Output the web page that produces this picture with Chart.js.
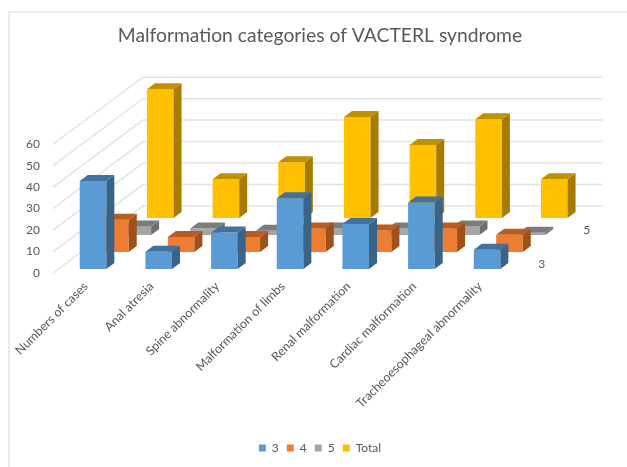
<!DOCTYPE html>
<html lang="en">
<head>
    <meta charset="UTF-8">
    <title>Malformation categories of VACTERL syndrome</title>
    <script src="https://cdn.jsdelivr.net/npm/chart.js"></script>
    <style>
        html, body { margin: 0; padding: 0; background: #fff; }
    </style>
</head>
<body>
    <div style="position:absolute;left:0;top:0;width:627px;height:467px">
        <canvas id="chart" width="627" height="467"></canvas>
    </div>

    <script>
        const categories = ['Numbers of cases', 'Anal atresia', 'Spine abnormality', 'Malformation of limbs',
            'Renal malformation', 'Cardiac malformation', 'Tracheoesophageal abnormality'];
        const series3 = [41, 8, 17, 33, 21, 31, 9];
        const series4 = [15, 7, 7, 11, 10, 11, 8];
        const series5 = [4, 3, 2, 3, 3, 4, 1];
        const seriesTotal = [60, 18, 26, 47, 34, 46, 18];
        const yTicks = [0, 10, 20, 30, 40, 50, 60];

        // 3D look: how far each series sits behind the front edge of the floor
        const depthX = [7.2, 29.6, 52, 74.4];
        const depthY = [4, 21, 38, 55];
        const wallX = 90, wallY = 67;
        const sideX = 8, sideY = 6;
        const sideColors = ['#38648a', '#9e5219', '#6e6e6e', '#a67c00'];
        const topColors = ['#41719c', '#b85d1f', '#7c7c7c', '#bf9000'];

        const walls = {
            id: 'walls',
            beforeDraw(chart) {
                // thin frame of the picture, left and top only
                const ctx = chart.ctx;
                ctx.save();
                ctx.strokeStyle = '#e6e6e6';
                ctx.lineWidth = 1.5;
                ctx.beginPath();
                ctx.moveTo(9, 467);
                ctx.lineTo(9, 12);
                ctx.lineTo(627, 12);
                ctx.stroke();
                ctx.restore();
            },
            beforeDatasetsDraw(chart) {
                const { ctx, chartArea, scales } = chart;
                ctx.save();
                ctx.strokeStyle = '#e3e3e3';
                ctx.lineWidth = 1.5;
                yTicks.forEach(v => {
                    const y = scales.y.getPixelForValue(v);
                    ctx.beginPath();
                    ctx.moveTo(chartArea.left, y);
                    ctx.lineTo(chartArea.left + wallX, y - wallY);
                    ctx.lineTo(chartArea.right + wallX, y - wallY);
                    ctx.stroke();
                });
                ctx.restore();
            },
            afterDraw(chart) {
                // labels of the depth axis
                const { ctx, chartArea, scales } = chart;
                const y0 = scales.y.getPixelForValue(0);
                ctx.save();
                ctx.fillStyle = '#595959';
                ctx.font = '12px Lato';
                ctx.textAlign = 'center';
                ctx.textBaseline = 'middle';
                ctx.fillText('3', chartArea.right + 29, y0 - 9);
                ctx.fillText('5', chartArea.right + 74, y0 - 43);
                ctx.restore();
            }
        };

        const bars3d = {
            id: 'bars3d',
            beforeDatasetDraw(chart, args) {
                chart.ctx.save();
                chart.ctx.translate(depthX[args.index], -depthY[args.index]);
            },
            afterDatasetDraw(chart, args) {
                const ctx = chart.ctx;
                args.meta.data.forEach(bar => {
                    const l = bar.x - bar.width / 2, r = bar.x + bar.width / 2;
                    const t = bar.y, b = bar.base;
                    ctx.fillStyle = sideColors[args.index];
                    ctx.beginPath();
                    ctx.moveTo(r, t);
                    ctx.lineTo(r + sideX, t - sideY);
                    ctx.lineTo(r + sideX, b - sideY);
                    ctx.lineTo(r, b);
                    ctx.closePath();
                    ctx.fill();
                    ctx.fillStyle = topColors[args.index];
                    ctx.beginPath();
                    ctx.moveTo(l, t);
                    ctx.lineTo(l + sideX, t - sideY);
                    ctx.lineTo(r + sideX, t - sideY);
                    ctx.lineTo(r, t);
                    ctx.closePath();
                    ctx.fill();
                });
                ctx.restore();
            }
        };

        function makeSeries(label, data, color) {
            return { label, data, backgroundColor: color, grouped: false, clip: false,
                barPercentage: 0.405, categoryPercentage: 1 };
        }

        new Chart(document.getElementById('chart'), {
            type: 'bar',
            data: {
                labels: categories,
                datasets: [
                    makeSeries('3', series3, '#5b9bd5'),
                    makeSeries('4', series4, '#ed7d31'),
                    makeSeries('5', series5, '#a5a5a5'),
                    makeSeries('Total', seriesTotal, '#ffc000')
                ]
            },
            options: {
                responsive: false,
                animation: false,
                layout: { padding: { left: 13, right: 0, top: 24, bottom: 3 } },
                scales: {
                    x: {
                        grid: { display: false, drawTicks: false },
                        border: { display: false },
                        afterFit(scale) { scale.height = 161; },
                        ticks: {
                            color: '#595959',
                            font: { family: 'Lato', size: 12.4 },
                            minRotation: 45,
                            maxRotation: 45,
                            padding: 6,
                            autoSkip: false
                        }
                    },
                    y: {
                        min: 0,
                        max: 60,
                        grid: { display: false, drawTicks: false },
                        border: { display: false },
                        afterFit(scale) { scale.width = 40; },
                        afterBuildTicks(scale) { scale.ticks = yTicks.map(value => ({ value })); },
                        ticks: {
                            color: '#595959',
                            font: { family: 'Lato', size: 12 },
                            padding: 13
                        }
                    },
                    // empty axis, only keeps the room right of the floor for the 3D depth
                    depthRoom: {
                        type: 'linear',
                        position: 'right',
                        grid: { display: false, drawTicks: false },
                        border: { display: false },
                        ticks: { display: false },
                        afterFit(scale) { scale.width = 114.3; }
                    }
                },
                plugins: {
                    title: {
                        display: true,
                        text: 'Malformation categories of VACTERL syndrome',
                        color: '#595959',
                        font: { family: 'Lato', size: 19.3, weight: 'normal' },
                        padding: { top: 0, bottom: 97 }
                    },
                    legend: {
                        position: 'bottom',
                        labels: {
                            color: '#595959',
                            font: { family: 'Lato', size: 12 },
                            boxWidth: 7,
                            boxHeight: 7,
                            padding: 8
                        }
                    },
                    tooltip: { enabled: false }
                }
            },
            plugins: [walls, bars3d]
        });
    </script>
</body>
</html>
